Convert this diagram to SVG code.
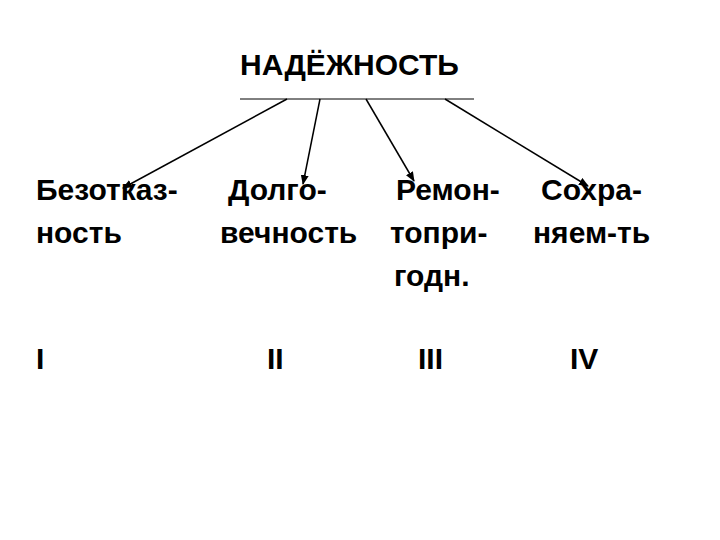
<svg xmlns="http://www.w3.org/2000/svg" width="720" height="540" viewBox="0 0 720 540">
<style>
text{font-family:"Liberation Sans",Arial,sans-serif;fill:#000;font-size:30px;font-weight:bold}
.c line{stroke:#000;stroke-width:1.5}
</style>
<defs><marker id="a" markerWidth="10" markerHeight="8" refX="9" refY="4" orient="auto" markerUnits="userSpaceOnUse"><path d="M0,0L10,4L0,8z"/></marker></defs>
<rect width="720" height="540" fill="#fff"/>
<g id="root"><text x="240" y="75" font-size="26">НАДЁЖНОСТЬ</text><line x1="240" y1="99" x2="474" y2="99" stroke="#000" stroke-width="1"/></g>
<g class="c" id="connectors">
<line x1="287" y1="99" x2="123" y2="188" marker-end="url(#a)"/>
<line x1="320" y1="99" x2="303" y2="184" marker-end="url(#a)"/>
<line x1="366" y1="99" x2="414" y2="181" marker-end="url(#a)"/>
<line x1="445" y1="99" x2="588" y2="186" marker-end="url(#a)"/>
</g>
<g id="n1"><text x="36" y="200">Безотказ-</text><text x="36" y="243">ность</text><text x="36" y="369">I</text></g>
<g id="n2"><text x="228" y="200">Долго-</text><text x="220" y="243">вечность</text><text x="267" y="369">II</text></g>
<g id="n3"><text x="396" y="200">Ремон-</text><text x="390" y="243">топри-</text><text x="394" y="286">годн.</text><text x="418" y="369">III</text></g>
<g id="n4"><text x="541" y="200">Сохра-</text><text x="533" y="243">няем-ть</text><text x="570" y="369">IV</text></g>
</svg>
